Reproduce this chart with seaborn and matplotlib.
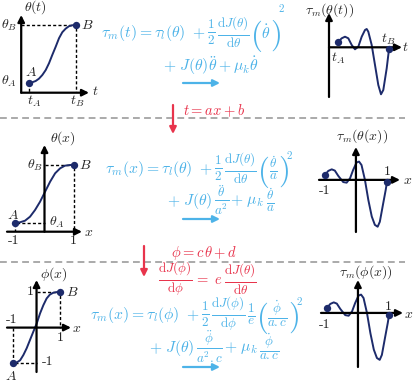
import matplotlib
matplotlib.use("Agg")
import matplotlib.pyplot as plt
import seaborn as sns

# trajectory theta(t) between A and B (top row)
traj1_t = [1.0, 1.42, 1.85, 2.27, 2.70, 3.13, 3.55, 3.97, 4.41, 4.83, 5.25, 5.68, 6.10, 6.53, 7.0]
traj1_theta = [1.0, 1.08, 1.21, 1.45, 1.83, 2.34, 3.04, 3.90, 4.76, 5.63, 6.25, 6.62, 6.87, 6.97, 7.0]

# motor torque along the trajectory (top row)
torque1_t = [0.93, 1.27, 1.6, 1.93, 2.27, 2.6, 2.93, 3.27, 3.6, 3.77, 3.93, 4.27, 4.6, 4.93, 5.2, 5.43, 5.77, 5.93, 6.0]
torque1_tau = [0.56, 0.9, 1.06, 0.9, 0.23, -0.2, 0.06, 1.06, 1.73, 1.83, 1.56, 0.23, -1.77, -3.77, -4.7, -4.27, -2.1, -0.77, -0.2]

# theta(x) on [-1, 1] (middle row)
traj2_x = [-1, -0.83, -0.66, -0.49, -0.32, -0.15, 0.02, 0.19, 0.36, 0.53, 0.69, 0.86, 1.0]
traj2_theta = [0.9, 0.94, 1.1, 1.5, 2.17, 3.0, 4.0, 5.0, 5.84, 6.34, 6.6, 6.67, 6.67]

# normalised torque (middle and bottom rows)
torque2_x = [-1, -0.89, -0.78, -0.68, -0.57, -0.41, -0.30, -0.19, -0.09, 0.02, 0.10, 0.18, 0.29,
             0.40, 0.51, 0.61, 0.70, 0.77, 0.88, 0.96, 1.0]
torque2_tau = [0.16, 0.29, 0.34, 0.30, 0.13, -0.07, -0.09, 0.05, 0.32, 0.56, 0.59, 0.48, 0.0,
               -0.65, -1.18, -1.45, -1.51, -1.35, -0.75, -0.32, -0.07]

# phi(x) on [-1, 1] (bottom row)
traj3_x = [-1, -0.84, -0.70, -0.56, -0.42, -0.28, -0.14, 0.01, 0.15, 0.29, 0.43, 0.57, 0.71, 0.86, 1.0]
traj3_phi = [-1, -0.98, -0.92, -0.77, -0.58, -0.35, -0.12, 0.12, 0.40, 0.63, 0.82, 0.93, 0.98, 1.0, 1.0]

# equation pieces: text, kind ("t" plain, "f" fraction, "p" big paren, "s"/"S" superscript)
half = r"$\frac{1}{2}$"
dJth = r"$\frac{\mathrm{d}J(\theta)}{\mathrm{d}\theta}$"
dJph = r"$\frac{\mathrm{d}J(\phi)}{\mathrm{d}\phi}$"
eq1_a = [(r"$\tau_m(t) = \tau_l(\theta)\ +$", "t"), (half, "f"), (dJth, "f"), ("$($", "p"),
         (r"$\dot{\theta}$", "t"), ("$)$", "p"), ("$2$", "s")]
eq1_b = [(r"$+\ J(\theta)\ddot{\theta} + \mu_k\dot{\theta}$", "t")]
eq2_a = [(r"$\tau_m(x) = \tau_l(\theta)\ +$", "t"), (half, "f"), (dJth, "f"), ("$($", "p"),
         (r"$\frac{\dot{\theta}}{a}$", "f"), ("$)$", "p"), ("$2$", "S")]
eq2_b = [(r"$+\ J(\theta)$", "t"), (r"$\frac{\ddot{\theta}}{a^2}$", "f"), (r"$+\ \mu_k$", "t"),
         (r"$\frac{\dot{\theta}}{a}$", "f")]
eq3_a = [(r"$\tau_m(x) = \tau_l(\phi)\ +$", "t"), (half, "f"), (dJph, "f"), (r"$\frac{1}{e}$", "f"),
         ("$($", "p"), (r"$\frac{\dot{\phi}}{a.c}$", "f"), ("$)$", "p"), ("$2$", "S")]
eq3_b = [(r"$+\ J(\theta)$", "t"), (r"$\frac{\ddot{\phi}}{a^2.c}$", "f"), (r"$+\ \mu_k$", "t"),
         (r"$\frac{\dot{\phi}}{a.c}$", "f")]
change_1 = r"$t = ax + b$"
change_2 = r"$\phi = c\,\theta + d$"
change_3 = [(dJph, "f"), (r"$=\ e$", "t"), (dJth, "f")]

sns.set_style("white")
plt.rcParams["mathtext.fontset"] = "cm"

navy = "#1d2b6b"
blue = "#4db3e8"
red = "#e8344c"
W, H = 415, 382
fs_lab = 10
fs_eq = 11.3

fig = plt.figure(figsize=(4.15, 3.82), dpi=100)
renderer = fig.canvas.get_renderer()

# background layer in pixel units for separators, equations and arrows
bg = fig.add_axes([0, 0, 1, 1])
bg.set_xlim(0, W)
bg.set_ylim(H, 0)
bg.set_axis_off()
for ysep in (118, 262):
    bg.plot([0, 405], [ysep, ysep], color="#aaaaaa", lw=1.4, ls=(0, (3.5, 2.2)))

# size, gap before, vertical shift, trim after, for each kind of piece
style = {"t": (fs_eq, 1, 0, 0), "f": (13.5, 1.5, -1, 0), "p": (22, 0, 3, 2),
         "s": (8, -1, -25, 0), "S": (8, -1, -14, 0)}


def chain(x, y, pieces, color=blue, sizes=style):
    # write pieces one after another on the same line
    for s, kind in pieces:
        size, gap, dy, trim = sizes[kind]
        x += gap
        t = bg.text(x, y + dy, s, color=color, fontsize=size, ha="left", va="center")
        x += t.get_window_extent(renderer).width - trim


chain(100, 33, eq1_a)
chain(162, 66, eq1_b)
chain(104, 169, eq2_a)
chain(166, 201, eq2_b)
chain(89, 315, eq3_a)
chain(148, 348, eq3_b)
chain(157, 280, change_3, color=red,
      sizes={"t": (10.5, 1, 0, 0), "f": (13.5, 1, -1, 0)})

for ya in (83, 219, 367):
    bg.annotate("", xy=(220, ya), xytext=(183, ya),
                arrowprops=dict(arrowstyle="-|>", color=blue, lw=1.6, mutation_scale=10,
                                shrinkA=0, shrinkB=0))

bg.annotate("", xy=(173, 134), xytext=(173, 105),
            arrowprops=dict(arrowstyle="-|>", color=red, lw=1.6, mutation_scale=10, shrinkA=0, shrinkB=0))
bg.annotate("", xy=(144, 277), xytext=(144, 246),
            arrowprops=dict(arrowstyle="-|>", color=red, lw=1.6, mutation_scale=10, shrinkA=0, shrinkB=0))
bg.text(183, 111, change_1, color=red, fontsize=10.5, ha="left", va="center")
bg.text(204, 253, change_2, color=red, fontsize=10.5, ha="center", va="center")

axis_kw = dict(arrowstyle="-|>", color="black", lw=1.6, mutation_scale=10, shrinkA=0, shrinkB=0)
dash_kw = dict(color="black", lw=1.0, ls=(0, (2.2, 1.6)))


def panel(left, top, right, bottom, xlim, ylim):
    ax = fig.add_axes([left / W, 1 - bottom / H, (right - left) / W, (bottom - top) / H])
    ax.set_xlim(xlim)
    ax.set_ylim(ylim)
    ax.set_axis_off()
    ax.annotate("", xy=(xlim[1], 0), xytext=(xlim[0], 0), arrowprops=axis_kw, annotation_clip=False)
    ax.annotate("", xy=(0, ylim[1]), xytext=(0, ylim[0]), arrowprops=axis_kw, annotation_clip=False)
    return ax


def curve(ax, xs, ys):
    sns.lineplot(x=xs, y=ys, ax=ax, sort=False, color=navy, lw=1.4, estimator=None)
    sns.scatterplot(x=[xs[0], xs[-1]], y=[ys[0], ys[-1]], ax=ax, color=navy, s=28,
                    edgecolor=navy, linewidth=0, zorder=5, clip_on=False)


def lab(ax, x, y, s, size=fs_lab, **kw):
    ax.text(x, y, s, fontsize=size, ha="center", va="center", clip_on=False, **kw)


# top left: theta(t)
ax = panel(21.2, 15, 89, 92.7, (0, 8.66), (0, 8.03))
tA, tB, thA, thB = traj1_t[0], traj1_t[-1], traj1_theta[0], traj1_theta[-1]
ax.plot([0, tB, tB], [thB, thB, 0], **dash_kw)
ax.plot([tA, tA], [thA, 0], **dash_kw)
curve(ax, traj1_t, traj1_theta)
lab(ax, 1.76, 8.8, r"$\theta(t)$")
lab(ax, -1.6, thB, r"$\theta_B$")
lab(ax, -1.6, thA + 0.2, r"$\theta_A$")
lab(ax, tA + 0.6, -0.9, r"$t_A$")
lab(ax, tB + 0.2, -0.9, r"$t_B$")
lab(ax, 9.4, 0.2, r"$t$")
lab(ax, tA + 0.25, thA + 1.15, r"$A$")
lab(ax, tB + 1.4, thB, r"$B$")

# top right: tau_m(theta(t))
ax = panel(329, 13, 402, 97, (0, 7.3), (-4.97, 3.43))
curve(ax, torque1_t, torque1_tau)
lab(ax, 0.1, 3.72, r"$\tau_m(\theta(t))$")
lab(ax, 0.95, -1.1, r"$t_A$")
lab(ax, 5.9, 0.75, r"$t_B$")
lab(ax, 7.65, 0.05, r"$t$")

# middle left: theta(x)
ax = panel(7, 145, 82, 231.7, (-1.27, 1.27), (0, 8.67))
xa, xb, ya, yb = traj2_x[0], traj2_x[-1], traj2_theta[0], traj2_theta[-1]
ax.plot([0, xb, xb], [yb, yb, 0], **dash_kw)
ax.plot([xa, xa, 0], [0, ya, ya], **dash_kw)
curve(ax, traj2_x, traj2_theta)
lab(ax, 0.62, 9.4, r"$\theta(x)$")
lab(ax, -0.32, yb, r"$\theta_B$")
lab(ax, 0.42, ya, r"$\theta_A$")
lab(ax, -1.08, ya + 0.8, r"$A$")
lab(ax, xb + 0.38, yb, r"$B$")
lab(ax, -1.05, -0.95, "-1", family="cmr10")
lab(ax, 0.97, -0.95, "1", family="cmr10")
lab(ax, 1.48, 0.0, r"$x$")

# middle right: tau_m(theta(x))
ax = panel(319, 147, 400, 232, (-1.19, 1.42), (-1.68, 1.06))
curve(ax, torque2_x, torque2_tau)
lab(ax, 0.2, 1.42, r"$\tau_m(\theta(x))$")
lab(ax, -1.0, -0.36, "-1", family="cmr10")
lab(ax, 1.02, 0.27, "1", family="cmr10")
lab(ax, 1.66, 0.0, r"$x$")

# bottom left: phi(x)
ax = panel(7, 280, 71, 372, (-1.26, 1.47), (-1.25, 1.34))
xa, xb, pa, pb = traj3_x[0], traj3_x[-1], traj3_phi[0], traj3_phi[-1]
ax.plot([0, xb, xb], [pb, pb, 0], **dash_kw)
ax.plot([xa, xa, 0], [0, pa, pa], **dash_kw)
curve(ax, traj3_x, traj3_phi)
lab(ax, 0.72, 1.5, r"$\phi(x)$")
lab(ax, -0.28, pb, "1", family="cmr10")
lab(ax, -1.05, 0.22, "-1", family="cmr10")
lab(ax, 1.0, -0.3, "1", family="cmr10")
lab(ax, 0.48, pa + 0.03, "-1", family="cmr10")
lab(ax, -1.09, -1.35, r"$A$")
lab(ax, 1.52, pb, r"$B$")
lab(ax, 1.73, 0.0, r"$x$")

# bottom right: tau_m(phi(x))
ax = panel(321, 280, 403, 367, (-1.19, 1.45), (-1.74, 1.06))
curve(ax, torque2_x, torque2_tau)
lab(ax, 0.26, 1.3, r"$\tau_m(\phi(x))$")
lab(ax, -1.06, -0.39, "-1", family="cmr10")
lab(ax, 0.97, 0.2, "1", family="cmr10")
lab(ax, 1.62, -0.02, r"$x$")

fig.savefig("out.png", dpi=100)
